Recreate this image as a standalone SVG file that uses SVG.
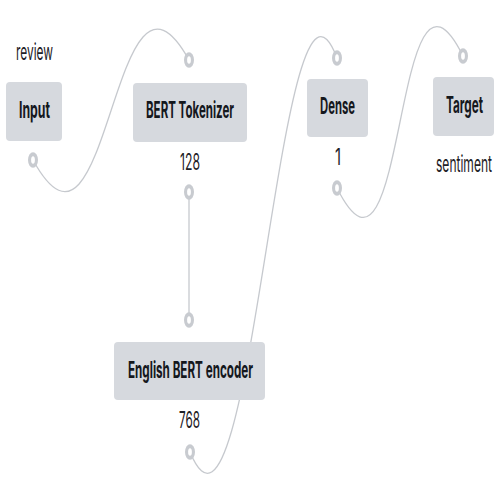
<svg xmlns="http://www.w3.org/2000/svg" xmlns:xlink="http://www.w3.org/1999/xlink" width="500" height="500" viewBox="0 0 500 500">
<style>
.box{fill:#d6d9de;}
.nm{font-family:Inter,"Liberation Sans",sans-serif;font-weight:700;font-size:23px;fill:#15181d;}
.lb{font-family:Inter,"Liberation Sans",sans-serif;font-weight:400;font-size:23px;fill:#1e2126;}
.edge{fill:none;stroke:#c6c9ce;stroke-width:1.3;}
</style>
<defs>
<g id="port">
<ellipse cx="0" cy="0" rx="5" ry="7.8" fill="#c8cbd0"/>
<ellipse cx="0" cy="0" rx="1.9" ry="3.8" fill="#ffffff"/>
</g>
</defs>
<rect width="500" height="500" fill="#ffffff"/>
<g id="connectors">
<path class="edge" d="M33,160 C110,300 112,-78 189,60"/>
<path class="edge" d="M189,192 L189,320"/>
<path class="edge" d="M190,452 C252,602 280,-92 337,58"/>
<path class="edge" d="M337,188 C407,328 393,-84 463,56"/>
</g>
<g id="input">
<text class="lb" x="16" y="60" textLength="37" lengthAdjust="spacingAndGlyphs">review</text>
<rect class="box" x="6" y="82" width="56" height="59" rx="4"/>
<text class="nm" x="19" y="118" textLength="31" lengthAdjust="spacingAndGlyphs">Input</text>
<use xlink:href="#port" x="33" y="160"/>
</g>
<g id="tokenizer">
<use xlink:href="#port" x="189" y="60"/>
<rect class="box" x="133" y="83" width="114" height="59" rx="4"/>
<text class="nm" x="146" y="118" textLength="88" lengthAdjust="spacingAndGlyphs">BERT Tokenizer</text>
<text class="lb" x="180" y="170" textLength="20" lengthAdjust="spacingAndGlyphs">128</text>
<use xlink:href="#port" x="189" y="192"/>
</g>
<g id="encoder">
<use xlink:href="#port" x="189" y="320"/>
<rect class="box" x="114" y="342" width="151" height="58" rx="4"/>
<text class="nm" x="128" y="378" textLength="125" lengthAdjust="spacingAndGlyphs">English BERT encoder</text>
<text class="lb" x="179" y="428" textLength="21" lengthAdjust="spacingAndGlyphs">768</text>
<use xlink:href="#port" x="190" y="452"/>
</g>
<g id="dense">
<use xlink:href="#port" x="337" y="58"/>
<rect class="box" x="307" y="79" width="61" height="58" rx="4"/>
<text class="nm" x="320" y="114" textLength="35" lengthAdjust="spacingAndGlyphs">Dense</text>
<text class="lb" x="335" y="165" textLength="6" lengthAdjust="spacingAndGlyphs">1</text>
<use xlink:href="#port" x="337" y="188"/>
</g>
<g id="target">
<use xlink:href="#port" x="463" y="56"/>
<rect class="box" x="433" y="77" width="61" height="59" rx="4"/>
<text class="nm" x="446" y="113" textLength="37" lengthAdjust="spacingAndGlyphs">Target</text>
<text class="lb" x="436" y="172" textLength="56" lengthAdjust="spacingAndGlyphs">sentiment</text>
</g>
</svg>
